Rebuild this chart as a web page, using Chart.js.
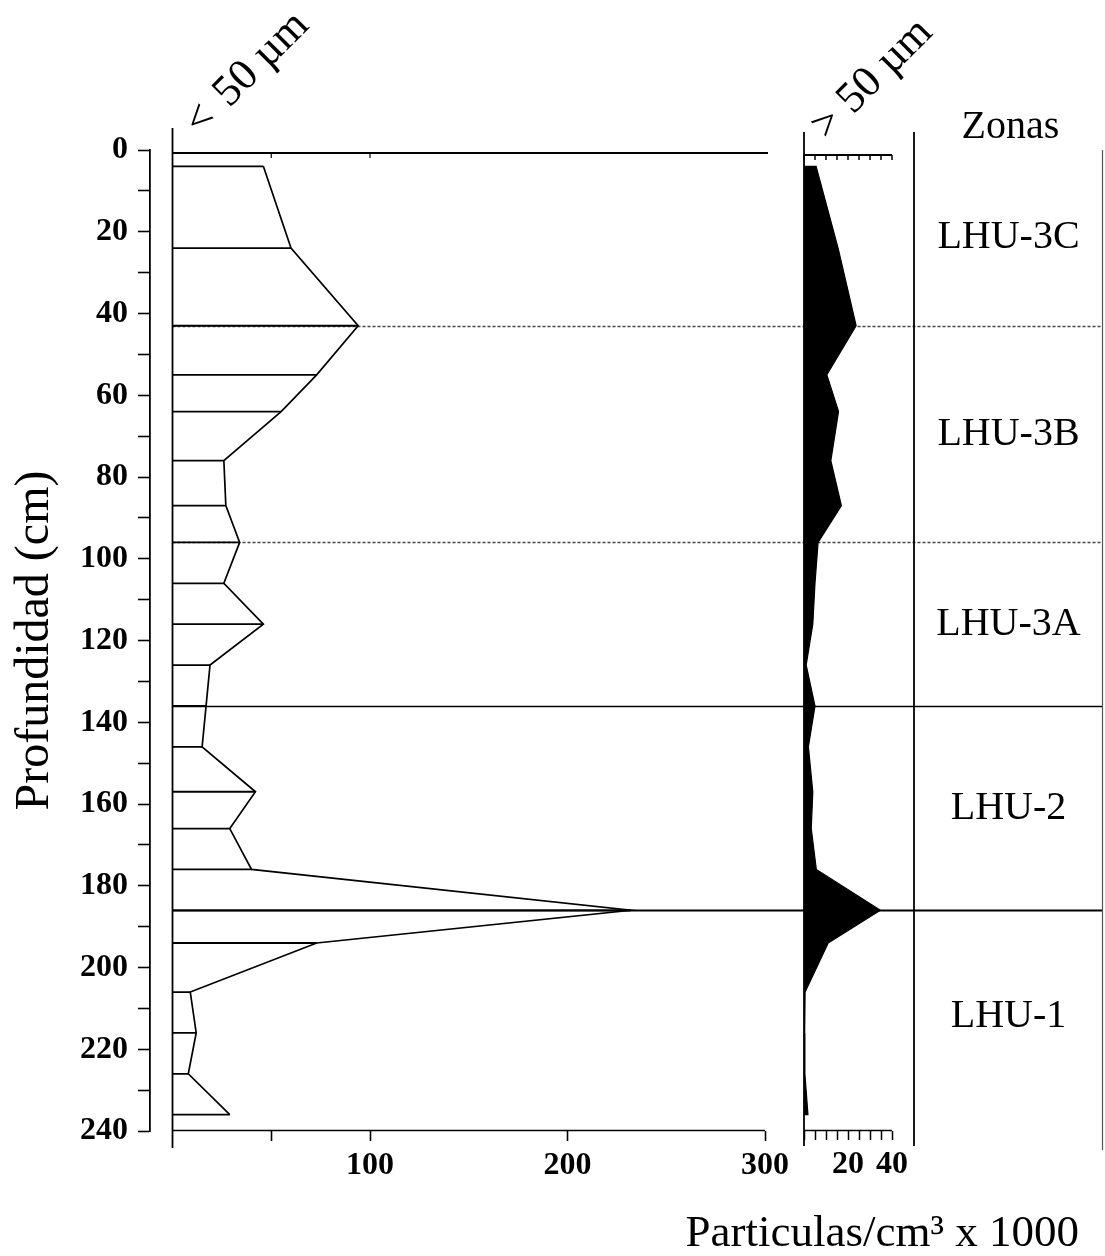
<!DOCTYPE html>
<html>
<head>
<meta charset="utf-8">
<script src="https://cdn.jsdelivr.net/npm/chart.js@4/dist/chart.umd.min.js"></script>
<style>
  html, body { margin: 0; padding: 0; background: #fff; }
  canvas { display: block; }
</style>
</head>
<body>
<canvas id="c" width="1105" height="1256"></canvas>
<script>
// ---------------- DATA ----------------
const depths = [4, 24, 43, 55, 64, 76, 87, 96, 106, 116, 126, 136, 146, 157, 166, 176, 186, 194, 206, 216, 226, 236];
// particles < 50 µm (x1000 / cm3)
const fineParticles = [46, 60, 94, 73, 55, 26, 27, 34, 26, 46, 19, 17, 15, 42, 29, 40, 232, 73, 9, 12, 8, 29];
// particles > 50 µm (x1000 / cm3)
const coarseParticles = [5.5, 15.5, 23.7, 10.4, 15.7, 12.2, 17, 6.4, 5, 4, 1, 5, 2, 4, 3.3, 5.6, 34.7, 11, 0.5, 0.3, 0.4, 1.8];

const depthTickValues = [0, 10, 20, 30, 40, 50, 60, 70, 80, 90, 100, 110, 120, 130, 140, 150, 160, 170, 180, 190, 200, 210, 220, 230, 240];
const depthTickLabels = [0, 20, 40, 60, 80, 100, 120, 140, 160, 180, 200, 220, 240];
const fineTickValues = [50, 100, 200, 300];
const fineTickLabels = [100, 200, 300];
const coarseTickValues = [0, 5, 10, 15, 20, 25, 30, 35, 40];
const coarseTickLabels = [20, 40];

const zoneNames = ['LHU-3C', 'LHU-3B', 'LHU-3A', 'LHU-2', 'LHU-1'];
const zoneTops = [0, 43, 96, 136, 186];
const zoneBottom = 238;

// ---------------- LAYOUT / STYLE ----------------
const PX = {
  W: 1105, H: 1256,
  plotLeft: 150, plotRight: 1103, plotTop: 150, plotBottom: 1131, split: 785,
  fineZero: 172.5, fineUnit: 1.975,
  coarseZero: 804, coarseUnit: 2.2,
  axisH: 60
};
const zoneLineStyles = [
  { dash: [3, 2], color: '#444', width: 1.5 },
  { dash: [3, 2], color: '#444', width: 1.5 },
  { dash: [], color: '#000', width: 1.7 },
  { dash: [], color: '#000', width: 2 }
];
const SERIF = '"Liberation Serif", "Times New Roman", serif';
const tickFont = { family: SERIF, size: 32, weight: 'bold' };

// datasets built from the arrays
const fineProfile = depths.map((d, i) => ({ x: fineParticles[i], y: d }));
const fineSampleLines = [];
depths.forEach((d, i) => {
  fineSampleLines.push({ x: 0, y: d }, { x: fineParticles[i], y: d }, { x: null, y: null });
});
const coarsePolygon = [{ x: 0, y: depths[0] }]
  .concat(depths.map((d, i) => ({ x: coarseParticles[i], y: d })))
  .concat([{ x: 0, y: depths[depths.length - 1] }]);

function noPad(s) { s.paddingLeft = 0; s.paddingRight = 0; s.paddingTop = 0; s.paddingBottom = 0; }

const decor = {
  id: 'decor',
  beforeDatasetsDraw(chart) {
    const { ctx, chartArea: ca, scales: { y, xL } } = chart;
    ctx.save();
    zoneTops.slice(1).forEach((d, i) => {
      const st = zoneLineStyles[i];
      const py = Math.round(y.getPixelForValue(d)) + 0.5;
      ctx.beginPath();
      ctx.setLineDash(st.dash);
      ctx.strokeStyle = st.color;
      ctx.lineWidth = st.width;
      ctx.moveTo(xL.getPixelForValue(0), py);
      ctx.lineTo(ca.right, py);
      ctx.stroke();
    });
    ctx.restore();
  },
  afterDraw(chart) {
    const { ctx, chartArea: ca, scales: { y, xL, xR } } = chart;
    ctx.save();
    ctx.strokeStyle = '#000';
    ctx.setLineDash([]);
    const line = (x1, y1, x2, y2, w, c) => {
      ctx.beginPath(); ctx.lineWidth = w; ctx.strokeStyle = c || '#000';
      ctx.moveTo(x1, y1); ctx.lineTo(x2, y2); ctx.stroke();
    };
    // left panel frame
    const l0 = xL.getPixelForValue(0), l300 = xL.getPixelForValue(300);
    line(l0, 128, l0, 1148, 1.8);
    line(l0, ca.top + 3, l300 + 3, ca.top + 3, 2.2);
    [50, 100].forEach(v => line(xL.getPixelForValue(v), ca.top + 3, xL.getPixelForValue(v), ca.top + 8, 1.2));
    line(l0, ca.bottom - 0.5, l300, ca.bottom - 0.5, 1.3);
    // right panel frame
    const r0 = xR.getPixelForValue(0), r40 = xR.getPixelForValue(40), rEnd = xR.getPixelForValue(50);
    line(r0, 132, r0, 1146, 1.8);
    line(rEnd, 132, rEnd, 1146, 1.8);
    line(r0, ca.top + 5, r40, ca.top + 5, 1.8);
    coarseTickValues.forEach(v => {
      const px = xR.getPixelForValue(v);
      line(px, ca.top + 5, px, ca.top + 10, 1.5);
    });
    line(r0, ca.bottom - 0.5, r40, ca.bottom - 0.5, 1.5);
    // outer right border
    line(ca.right - 0.5, 150, ca.right - 0.5, 1150, 1.2, '#555');

    // texts
    ctx.fillStyle = '#000';
    ctx.textAlign = 'center';
    ctx.textBaseline = 'middle';
    ctx.font = '40px ' + SERIF;
    const zx = (rEnd + ca.right) / 2;
    ctx.fillText('Zonas', zx + 2, 127);
    zoneNames.forEach((n, i) => {
      const top = zoneTops[i];
      const bot = i + 1 < zoneTops.length ? zoneTops[i + 1] : zoneBottom;
      ctx.fillText(n, zx, y.getPixelForValue((top + bot) / 2));
    });
    // rotated size-class labels
    const rot = (sym, text, x, yy, gap) => {
      ctx.save();
      ctx.translate(x, yy);
      ctx.rotate(-Math.PI / 4);
      ctx.textAlign = 'left';
      ctx.textBaseline = 'alphabetic';
      ctx.font = '44px ' + SERIF;
      ctx.fillText(sym, 0, 0);
      ctx.fillText(text, ctx.measureText(sym).width + gap, 0);
      ctx.restore();
    };
    rot('<', '50 µm', l0 + 28, 137, 16);
    rot('>', '50 µm', r0 + 23, 141, 12);
    ctx.textAlign = 'right';
    ctx.textBaseline = 'alphabetic';
    ctx.font = '45px ' + SERIF;
    ctx.fillText('Particulas/cm³ x 1000', 1079, 1246);
    ctx.restore();
  }
};

new Chart(document.getElementById('c'), {
  type: 'scatter',
  data: {
    datasets: [
      {
        label: '> 50 µm',
        data: coarsePolygon,
        xAxisID: 'xR', yAxisID: 'y',
        showLine: true, fill: 'shape',
        backgroundColor: '#000', borderColor: '#000', borderWidth: 1.2,
        pointRadius: 0, pointHoverRadius: 0
      },
      {
        label: '< 50 µm muestras',
        data: fineSampleLines,
        xAxisID: 'xL', yAxisID: 'y',
        showLine: true, spanGaps: false, fill: false,
        borderColor: '#000', borderWidth: 1.8,
        pointRadius: 0, pointHoverRadius: 0
      },
      {
        label: '< 50 µm',
        data: fineProfile,
        xAxisID: 'xL', yAxisID: 'y',
        showLine: true, fill: false,
        borderColor: '#000', borderWidth: 1.7,
        pointRadius: 0, pointHoverRadius: 0
      }
    ]
  },
  options: {
    responsive: false,
    animation: false,
    devicePixelRatio: 1,
    events: [],
    layout: {
      padding: {
        left: 0,
        top: PX.plotTop,
        right: PX.W - PX.plotRight,
        bottom: PX.H - PX.plotBottom - PX.axisH
      }
    },
    plugins: { legend: { display: false }, tooltip: { enabled: false } },
    scales: {
      y: {
        type: 'linear', position: 'left', reverse: true, min: 0, max: 240, offset: false,
        afterFit(s) { s.width = PX.plotLeft; noPad(s); },
        afterBuildTicks(s) { s.ticks = depthTickValues.map(v => ({ value: v })); },
        ticks: {
          autoSkip: false, padding: 10, color: '#000', font: tickFont,
          callback: (v) => depthTickLabels.includes(v) ? String(v) : ''
        },
        grid: { display: true, drawOnChartArea: false, drawTicks: true, tickLength: 12, tickWidth: 1.6, tickColor: '#000', offset: false },
        border: { display: true, color: '#000', width: 1.8 },
        title: {
          display: true, text: 'Profundidad (cm)', color: '#000',
          font: { family: SERIF, size: 48 }, padding: { top: 7, bottom: 0 }
        }
      },
      xL: {
        type: 'linear', position: 'bottom', offset: false,
        stack: 'bottomAxes', stackWeight: PX.split - PX.plotLeft,
        min: (PX.plotLeft - PX.fineZero) / PX.fineUnit,
        max: (PX.split - PX.fineZero) / PX.fineUnit,
        afterFit(s) { s.height = PX.axisH; noPad(s); },
        afterBuildTicks(s) { s.ticks = fineTickValues.map(v => ({ value: v })); },
        ticks: {
          autoSkip: false, maxRotation: 0, padding: 6, color: '#000', font: tickFont,
          callback: (v) => fineTickLabels.includes(v) ? String(v) : ''
        },
        grid: { display: true, drawOnChartArea: false, drawTicks: true, tickLength: 10, tickWidth: 1.6, tickColor: '#000' },
        border: { display: false }
      },
      xR: {
        type: 'linear', position: 'bottom', offset: false,
        stack: 'bottomAxes', stackWeight: PX.plotRight - PX.split,
        min: (PX.split - PX.coarseZero) / PX.coarseUnit,
        max: (PX.plotRight - PX.coarseZero) / PX.coarseUnit,
        afterFit(s) { s.height = PX.axisH; noPad(s); },
        afterBuildTicks(s) { s.ticks = coarseTickValues.map(v => ({ value: v })); },
        ticks: {
          autoSkip: false, maxRotation: 0, padding: 6, color: '#000', font: tickFont,
          callback: (v) => coarseTickLabels.includes(v) ? String(v) : ''
        },
        grid: { display: true, drawOnChartArea: false, drawTicks: true, tickLength: 9, tickWidth: 1.5, tickColor: '#000' },
        border: { display: false }
      }
    }
  },
  plugins: [decor]
});
</script>
</body>
</html>
